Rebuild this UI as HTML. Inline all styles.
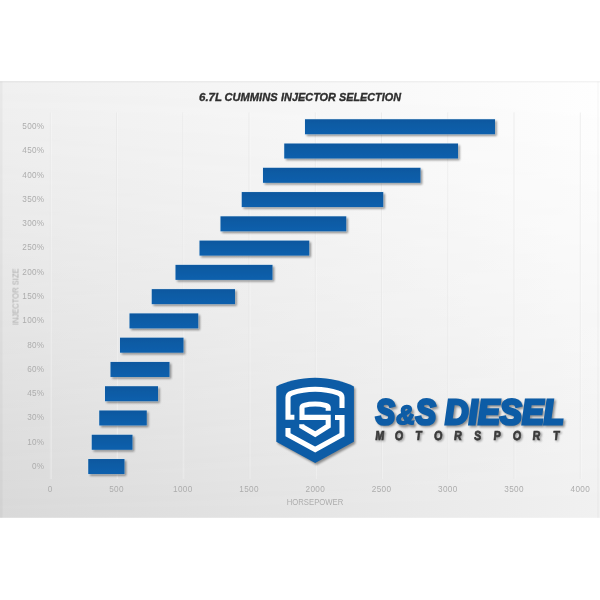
<!DOCTYPE html>
<html><head><meta charset="utf-8"><title>6.7L Cummins Injector Selection</title>
<style>
html,body{margin:0;padding:0;background:#fff;}
body{width:600px;height:600px;overflow:hidden;font-family:"Liberation Sans",sans-serif;}
svg{display:block;}
text{font-family:"Liberation Sans",sans-serif;}
</style></head><body>
<svg width="600" height="600" viewBox="0 0 600 600">
<defs>
<linearGradient id="gt" x1="0" y1="0" x2="1" y2="0"><stop offset="0" stop-color="#f0f0f0"/><stop offset="1" stop-color="#fefefe"/></linearGradient>
<linearGradient id="gb" x1="0" y1="0" x2="1" y2="0"><stop offset="0" stop-color="#d9d9d9"/><stop offset="1" stop-color="#f1f1f1"/></linearGradient>
<linearGradient id="gm" x1="0" y1="0" x2="0" y2="1">
<stop offset="0" stop-color="#fff"/><stop offset="0.25" stop-color="#cdcdcd"/><stop offset="0.5" stop-color="#919191"/><stop offset="0.75" stop-color="#4c4c4c"/><stop offset="1" stop-color="#000"/>
</linearGradient>
<mask id="mk" maskUnits="userSpaceOnUse" x="0" y="81.5" width="600" height="436.29999999999995"><rect x="0" y="81.5" width="600" height="436.29999999999995" fill="url(#gm)"/></mask>
<linearGradient id="bar" x1="0" y1="0" x2="0" y2="1"><stop offset="0" stop-color="#0b589f"/><stop offset="0.5" stop-color="#0b5ca6"/><stop offset="1" stop-color="#0a5fad"/></linearGradient>
<filter id="sh" x="-10%" y="-40%" width="120%" height="200%"><feGaussianBlur stdDeviation="0.8"/></filter>
<filter id="sh2" x="-10%" y="-10%" width="120%" height="130%"><feGaussianBlur stdDeviation="1.3"/></filter>
<filter id="soft" x="-5%" y="-5%" width="110%" height="110%"><feGaussianBlur stdDeviation="0.35"/></filter>
<filter id="gsoft" filterUnits="userSpaceOnUse" x="0" y="0" width="600" height="600"><feGaussianBlur stdDeviation="0.45"/></filter>
</defs>
<rect x="0" y="0" width="600" height="600" fill="#ffffff"/>
<g filter="url(#gsoft)">
<rect x="-5" y="-5" width="610" height="610" fill="#ffffff"/>
<rect x="0" y="81.5" width="600" height="436.29999999999995" fill="url(#gb)"/>
<rect x="0" y="81.5" width="600" height="436.29999999999995" fill="url(#gt)" mask="url(#mk)"/>
<rect x="0" y="81.5" width="600" height="1" fill="#000" opacity="0.04"/>
<rect x="0" y="81.5" width="2.5" height="436.29999999999995" fill="#000" opacity="0.03"/>
<rect x="597.5" y="81.5" width="1" height="436.29999999999995" fill="#000" opacity="0.04"/>

<g>
<rect x="49.80" y="112.5" width="1" height="366.5" fill="#e6e6e6" opacity="0.65"/><rect x="50.80" y="112.5" width="1" height="366.5" fill="#fff" opacity="0.32"/>
<rect x="116.05" y="112.5" width="1" height="366.5" fill="#e6e6e6" opacity="0.65"/><rect x="117.05" y="112.5" width="1" height="366.5" fill="#fff" opacity="0.32"/>
<rect x="182.30" y="112.5" width="1" height="366.5" fill="#e6e6e6" opacity="0.65"/><rect x="183.30" y="112.5" width="1" height="366.5" fill="#fff" opacity="0.32"/>
<rect x="248.55" y="112.5" width="1" height="366.5" fill="#e6e6e6" opacity="0.65"/><rect x="249.55" y="112.5" width="1" height="366.5" fill="#fff" opacity="0.32"/>
<rect x="314.80" y="112.5" width="1" height="366.5" fill="#e6e6e6" opacity="0.65"/><rect x="315.80" y="112.5" width="1" height="366.5" fill="#fff" opacity="0.32"/>
<rect x="381.05" y="112.5" width="1" height="366.5" fill="#e6e6e6" opacity="0.65"/><rect x="382.05" y="112.5" width="1" height="366.5" fill="#fff" opacity="0.32"/>
<rect x="447.30" y="112.5" width="1" height="366.5" fill="#e6e6e6" opacity="0.65"/><rect x="448.30" y="112.5" width="1" height="366.5" fill="#fff" opacity="0.32"/>
<rect x="513.55" y="112.5" width="1" height="366.5" fill="#e6e6e6" opacity="0.65"/><rect x="514.55" y="112.5" width="1" height="366.5" fill="#fff" opacity="0.32"/>
<rect x="579.80" y="112.5" width="1" height="366.5" fill="#e6e6e6" opacity="0.65"/><rect x="580.80" y="112.5" width="1" height="366.5" fill="#fff" opacity="0.32"/>
</g>
<g font-size="11.6" font-weight="bold" font-style="italic" fill="#2e2e2e" stroke="#2e2e2e" stroke-width="0.35">
<text x="199" y="100.8" textLength="23.0" lengthAdjust="spacingAndGlyphs">6.7L</text>
<text x="224.6" y="100.8" textLength="53.0" lengthAdjust="spacingAndGlyphs">CUMMINS</text>
<text x="281" y="100.8" textLength="55.0" lengthAdjust="spacingAndGlyphs">INJECTOR</text>
<text x="339" y="100.8" textLength="62.0" lengthAdjust="spacingAndGlyphs">SELECTION</text>
</g>
<g font-size="8.2" fill="#adadad" text-anchor="end" letter-spacing="0.25" filter="url(#soft)">
<text x="44.3" y="129.10">500%</text>
<text x="44.3" y="153.37">450%</text>
<text x="44.3" y="177.64">400%</text>
<text x="44.3" y="201.91">350%</text>
<text x="44.3" y="226.18">300%</text>
<text x="44.3" y="250.45">250%</text>
<text x="44.3" y="274.72">200%</text>
<text x="44.3" y="298.99">150%</text>
<text x="44.3" y="323.26">100%</text>
<text x="44.3" y="347.53">80%</text>
<text x="44.3" y="371.80">60%</text>
<text x="44.3" y="396.07">45%</text>
<text x="44.3" y="420.34">30%</text>
<text x="44.3" y="444.61">10%</text>
<text x="44.3" y="468.88">0%</text>
</g>
<text transform="translate(18.5,296.7) rotate(-90)" text-anchor="middle" font-size="8.2" fill="#adadad" textLength="56.7" lengthAdjust="spacingAndGlyphs" filter="url(#soft)">INJECTOR SIZE</text>
<g font-size="8.2" fill="#adadad" text-anchor="middle" letter-spacing="0.3" filter="url(#soft)">
<text x="50.30" y="491.8">0</text>
<text x="116.55" y="491.8">500</text>
<text x="182.80" y="491.8">1000</text>
<text x="249.05" y="491.8">1500</text>
<text x="315.30" y="491.8">2000</text>
<text x="381.55" y="491.8">2500</text>
<text x="447.80" y="491.8">3000</text>
<text x="514.05" y="491.8">3500</text>
<text x="580.30" y="491.8">4000</text>
<text x="315" y="504.7" letter-spacing="0" textLength="56.6" lengthAdjust="spacingAndGlyphs">HORSEPOWER</text>
</g>
<g fill="#000" opacity="0.42" filter="url(#sh)">
<rect x="306.70" y="120.95" width="190.00" height="15.00"/>
<rect x="285.95" y="145.22" width="173.75" height="15.00"/>
<rect x="264.70" y="169.49" width="157.50" height="15.00"/>
<rect x="243.45" y="193.76" width="141.50" height="15.00"/>
<rect x="222.20" y="218.03" width="125.75" height="15.00"/>
<rect x="201.20" y="242.30" width="109.75" height="15.00"/>
<rect x="177.20" y="266.57" width="97.00" height="15.00"/>
<rect x="153.45" y="290.84" width="83.25" height="15.00"/>
<rect x="131.20" y="315.11" width="68.75" height="15.00"/>
<rect x="121.70" y="339.38" width="63.50" height="15.00"/>
<rect x="112.20" y="363.65" width="59.00" height="15.00"/>
<rect x="106.70" y="387.92" width="53.00" height="15.00"/>
<rect x="100.95" y="412.19" width="47.50" height="15.00"/>
<rect x="93.45" y="436.46" width="40.75" height="15.00"/>
<rect x="89.95" y="460.73" width="36.25" height="15.00"/>
</g>
<g fill="url(#bar)" stroke="#d4e8fa" stroke-opacity="0.45" stroke-width="1.2" paint-order="stroke">
<rect x="305.00" y="119.25" width="190.00" height="15.00"/>
<rect x="284.25" y="143.52" width="173.75" height="15.00"/>
<rect x="263.00" y="167.79" width="157.50" height="15.00"/>
<rect x="241.75" y="192.06" width="141.50" height="15.00"/>
<rect x="220.50" y="216.33" width="125.75" height="15.00"/>
<rect x="199.50" y="240.60" width="109.75" height="15.00"/>
<rect x="175.50" y="264.87" width="97.00" height="15.00"/>
<rect x="151.75" y="289.14" width="83.25" height="15.00"/>
<rect x="129.50" y="313.41" width="68.75" height="15.00"/>
<rect x="120.00" y="337.68" width="63.50" height="15.00"/>
<rect x="110.50" y="361.95" width="59.00" height="15.00"/>
<rect x="105.00" y="386.22" width="53.00" height="15.00"/>
<rect x="99.25" y="410.49" width="47.50" height="15.00"/>
<rect x="91.75" y="434.76" width="40.75" height="15.00"/>
<rect x="88.25" y="459.03" width="36.25" height="15.00"/>
</g>
<path d="M276.3 386.4 C286 381.4 300 377.8 315.2 377.8 C330 377.8 344 381.4 353.9 386.4 L353.9 441.8 L315.2 463 L276.3 441.8 Z" fill="#000" opacity="0.4" filter="url(#sh2)" transform="translate(1.5,2)"/>
<path d="M276.3 386.4 C286 381.4 300 377.8 315.2 377.8 C330 377.8 344 381.4 353.9 386.4 L353.9 441.8 L315.2 463 L276.3 441.8 Z" fill="#0c5ca6"/>
<g fill="none" stroke="#fff" stroke-width="5.1" stroke-linejoin="miter">
<path d="M342 408 L342 397.5 Q342 394.3 338.5 393.2 Q327 389.3 315.2 389.3 Q303 389.3 291.5 393.2 Q288 394.3 288 397.5 L288 417.3 L294.4 417.3"/>
<path d="M288 428 L288 434.8 L315.2 449.6 L342 434.8 L342 417.5 L335 417.5"/>
<path d="M328.2 410.7 L328.2 407.6 Q328.2 405.9 326 405.4 Q320 404 315.2 404 Q309 404 304 405.4 Q302 405.9 302 407.6 L302 417.4 L328.2 417.4 L328.2 426 L315.2 434.3 L301.8 426.4 L301.8 424.2"/>
</g>
<g font-weight="bold" font-style="italic" fill="#000" stroke="#000" stroke-linejoin="miter" transform="translate(0,425.6) skewX(2.5) translate(0,-425.6)" opacity="0.42" filter="url(#sh2)"><text x="377.70" y="426.10" font-size="35" stroke-width="3.0" textLength="19.4" lengthAdjust="spacingAndGlyphs">S</text><text x="398.15" y="426.45" font-size="26.5" stroke-width="1.7" textLength="18.9" lengthAdjust="spacingAndGlyphs">&amp;</text><text x="417.70" y="426.10" font-size="35" stroke-width="3.0" textLength="20.4" lengthAdjust="spacingAndGlyphs">S</text><text x="447.00" y="426.10" font-size="35" stroke-width="3.0" textLength="118.9" lengthAdjust="spacingAndGlyphs">DIESEL</text></g>
<g font-weight="bold" font-style="italic" fill="#0c5ca6" stroke="#0c5ca6" stroke-linejoin="miter" transform="translate(0,425.6) skewX(2.5) translate(0,-425.6)" ><text x="376.10" y="424.10" font-size="35" stroke-width="3.0" textLength="19.4" lengthAdjust="spacingAndGlyphs">S</text><text x="396.55" y="424.45" font-size="26.5" stroke-width="1.7" textLength="18.9" lengthAdjust="spacingAndGlyphs">&amp;</text><text x="416.10" y="424.10" font-size="35" stroke-width="3.0" textLength="20.4" lengthAdjust="spacingAndGlyphs">S</text><text x="445.40" y="424.10" font-size="35" stroke-width="3.0" textLength="118.9" lengthAdjust="spacingAndGlyphs">DIESEL</text></g>
<g font-size="13" font-weight="bold" font-style="italic" fill="#000" stroke="#000" stroke-width="0.7" text-anchor="middle" opacity="0.4" filter="url(#sh)"><text transform="translate(381.30,441.20) skewX(3) scale(0.82,1)">M</text><text transform="translate(400.40,441.20) skewX(3) scale(0.82,1)">O</text><text transform="translate(420.10,441.20) skewX(3) scale(0.82,1)">T</text><text transform="translate(439.70,441.20) skewX(3) scale(0.82,1)">O</text><text transform="translate(459.40,441.20) skewX(3) scale(0.82,1)">R</text><text transform="translate(479.00,441.20) skewX(3) scale(0.82,1)">S</text><text transform="translate(498.70,441.20) skewX(3) scale(0.82,1)">P</text><text transform="translate(518.40,441.20) skewX(3) scale(0.82,1)">O</text><text transform="translate(538.00,441.20) skewX(3) scale(0.82,1)">R</text><text transform="translate(557.70,441.20) skewX(3) scale(0.82,1)">T</text></g>
<g font-size="13" font-weight="bold" font-style="italic" fill="#3a3a3a" stroke="#3a3a3a" stroke-width="0.7" text-anchor="middle" ><text transform="translate(380.00,439.60) skewX(3) scale(0.82,1)">M</text><text transform="translate(399.10,439.60) skewX(3) scale(0.82,1)">O</text><text transform="translate(418.80,439.60) skewX(3) scale(0.82,1)">T</text><text transform="translate(438.40,439.60) skewX(3) scale(0.82,1)">O</text><text transform="translate(458.10,439.60) skewX(3) scale(0.82,1)">R</text><text transform="translate(477.70,439.60) skewX(3) scale(0.82,1)">S</text><text transform="translate(497.40,439.60) skewX(3) scale(0.82,1)">P</text><text transform="translate(517.10,439.60) skewX(3) scale(0.82,1)">O</text><text transform="translate(536.70,439.60) skewX(3) scale(0.82,1)">R</text><text transform="translate(556.40,439.60) skewX(3) scale(0.82,1)">T</text></g>
</g></svg></body></html>
